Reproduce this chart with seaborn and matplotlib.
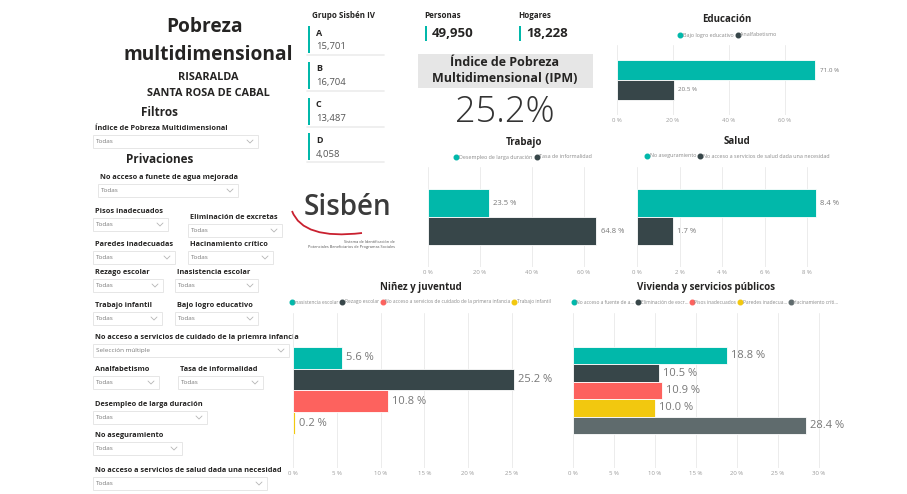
import seaborn as sns
import matplotlib.pyplot as plt
import pandas as pd
from matplotlib.patches import Rectangle, PathPatch
from matplotlib.path import Path
from matplotlib.lines import Line2D

# ----------------------- Datos -----------------------
grupos = ['A', 'B', 'C', 'D']
grupo_personas = [15701, 16704, 13487, 4058]
personas = 49950
hogares = 18228
ipm = 25.2

edu_series = ['Bajo logro educativo', 'Analfabetismo']
edu_values = [71.0, 20.5]

trabajo_series = ['Desempleo de larga duración', 'Tasa de informalidad']
trabajo_values = [23.5, 64.8]

salud_series = ['No aseguramiento', 'No acceso a servicios de salud dada una necesidad']
salud_values = [8.4, 1.7]

ninez_series = ['Inasistencia escolar', 'Rezago escolar',
                'No acceso a servicios de cuidado de la primera infancia', 'Trabajo infantil']
ninez_values = [5.6, 25.2, 10.8, 0.2]

vivienda_series = ['No acceso a fuente de a...', 'Eliminación de excr...', 'Pisos inadecuados',
                   'Paredes inadecua...', 'Hacinamiento críti...']
vivienda_values = [18.8, 10.5, 10.9, 10.0, 28.4]

PBI = ['#01B8AA', '#374649', '#FD625E', '#F2C80F', '#5F6B6D']
DARK = '#252423'
W, H = 907, 494

sns.set_theme(style='white')
plt.rcParams['font.family'] = ['Open Sans', 'DejaVu Sans']

fig = plt.figure(figsize=(W / 100, H / 100), dpi=100)
fig.patch.set_facecolor('white')

# overlay in pixel coords for the text / slicers
ov = fig.add_axes([0, 0, 1, 1])
ov.set_xlim(0, W)
ov.set_ylim(H, 0)
ov.axis('off')


def txt(x, y, s, size=5.3, weight='bold', color=DARK, ha='left', **kw):
    ov.text(x, y, s, fontsize=size, fontweight=weight, color=color, ha=ha, va='center', **kw)


def filtro(label, x, y, w, valor='Todas'):
    txt(x + 2, y, label)
    top = y + 7
    ov.add_patch(Rectangle((x, top), w, 13, facecolor='white', edgecolor='#e2e2e2', lw=0.6))
    txt(x + 3, top + 6.5, valor, size=4.6, weight='normal', color='#7a7a7a')
    cx = x + w - 8
    ov.plot([cx - 3, cx, cx + 3], [top + 5, top + 8, top + 5], color='#b5b5b5', lw=0.6)


# ----------------------- Panel izquierdo -----------------------
txt(205, 27, 'Pobreza', size=13.8, ha='center')
txt(208, 55, 'multidimensional', size=13.8, ha='center')
txt(208, 78, 'RISARALDA', size=7.8, ha='center')
txt(208, 94, 'SANTA ROSA DE CABAL', size=7.8, ha='center')
txt(160, 112, 'Filtros', size=8.5, ha='center')
filtro('Índice de Pobreza Multidimensional', 93, 128, 165)
txt(160, 159, 'Privaciones', size=8.5, ha='center')
filtro('No acceso a funete de agua mejorada', 98, 177, 140)
filtro('Pisos inadecuados', 93, 211, 75)
filtro('Eliminación de excretas', 188, 217, 94)
filtro('Paredes inadecuadas', 93, 244, 82)
filtro('Hacinamiento crítico', 188, 244, 85)
filtro('Rezago escolar', 93, 272, 70)
filtro('Inasistencia escolar', 175, 272, 83)
filtro('Trabajo infantil', 93, 305, 69)
filtro('Bajo logro educativo', 175, 305, 83)
filtro('No acceso a servicios de cuidado de la priemra infancia', 93, 337, 196,
       valor='Selección múltiple')
filtro('Analfabetismo', 93, 369, 66)
filtro('Tasa de informalidad', 178, 369, 85)
filtro('Desempleo de larga duración', 93, 404, 114)
filtro('No aseguramiento', 93, 435, 89)
filtro('No acceso a servicios de salud dada una necesidad', 93, 470, 174)

# ----------------------- Tarjetas -----------------------
txt(312, 16, 'Grupo Sisbén IV', size=5.8)
for i, (g, n) in enumerate(zip(grupos, grupo_personas)):
    y0 = 26 + i * 35.8
    ov.add_patch(Rectangle((307.5, y0), 2.2, 27, facecolor=PBI[0], edgecolor='none'))
    ov.plot([307, 384], [y0 + 29, y0 + 29], color='#ececec', lw=1.2)
    txt(316, y0 + 7, g, size=6.5)
    txt(316, y0 + 21, f'{n:,}', size=6.8, weight='normal', color='#555555')

for x, lab, val in [(424, 'Personas', personas), (518, 'Hogares', hogares)]:
    txt(x, 16, lab, size=5.8)
    ov.add_patch(Rectangle((x + 1, 26), 2.2, 15, facecolor=PBI[0], edgecolor='none'))
    txt(x + 8, 33.5, f'{val:,}', size=9.5)

ov.add_patch(Rectangle((418, 54), 175, 34, facecolor='#e6e6e6', edgecolor='none'))
txt(505, 63, 'Índice de Pobreza', size=9, ha='center')
txt(505, 79, 'Multidimensional (IPM)', size=9, ha='center')
txt(505, 112, f'{ipm:.1f}%', size=26, weight='light', color='#333333', ha='center')

# logo Sisbén
txt(347, 207, 'Sisbén', size=20, weight='semibold', color='#3b3b3b', ha='center')
swoosh = Path([(292, 211), (303, 240), (362, 233)], [Path.MOVETO, Path.CURVE3, Path.CURVE3])
ov.add_patch(PathPatch(swoosh, facecolor='none', edgecolor='#c9202f', lw=1.3))
txt(395, 241.5, 'Sistema de Identificación de', size=2.8, weight='normal', color='#555555', ha='right')
txt(395, 246.5, 'Potenciales Beneficiarios de Programas Sociales', size=2.8, weight='normal',
    color='#555555', ha='right')


# ----------------------- Gráficos de barras -----------------------
def barras(rect, titulo, title_y, series, valores, xmax, paso, label_size, labels=None,
           leg_size=3.9):
    x0, y0, x1, y1 = rect
    ax = fig.add_axes([x0 / W, 1 - y1 / H, (x1 - x0) / W, (y1 - y0) / H])
    colores = PBI[:len(series)]
    df = pd.DataFrame({'cat': ['total'] * len(series), 'serie': series, 'valor': valores})
    sns.barplot(data=df, x='valor', y='cat', hue='serie', palette=colores, orient='h',
                width=0.56, saturation=1, edgecolor='white', linewidth=0.6, legend=False, ax=ax)
    for c in ax.containers:
        ax.bar_label(c, fmt=lambda v: f'{v:.1f} %', padding=3, fontsize=label_size, color='#777777')
    ax.set_xlim(0, xmax)
    ax.set_ylim(0.5, -0.5)
    ticks = list(range(0, int(xmax) + 1, paso))
    ax.set_xticks(ticks)
    ax.set_xticklabels([f'{t} %' for t in ticks])
    ax.set_yticks([])
    ax.set_xlabel('')
    ax.set_ylabel('')
    ax.grid(axis='x', color='#ececec', lw=0.7)
    ax.set_axisbelow(True)
    sns.despine(ax=ax, left=True, bottom=True)
    ax.tick_params(axis='x', length=0, labelsize=4.3, colors='#9a9a9a', pad=2)
    ax.patch.set_alpha(0)

    cx = (x0 + x1) / 2 if labels is None else labels[0]
    txt(cx, title_y, titulo, size=7, ha='center')
    handles = [Line2D([], [], marker='o', ls='', color=c, markersize=3.3) for c in colores]
    lx = cx if labels is None else labels[1]
    ax.legend(handles, series, loc='center', bbox_to_anchor=(lx / W, 1 - (title_y + 15) / H),
              bbox_transform=fig.transFigure, ncol=len(series), frameon=False, fontsize=leg_size,
              handletextpad=0.05, columnspacing=0.35, handlelength=0.9, labelcolor='#8a8a8a',
              borderpad=0)
    return ax


barras((617, 45, 835, 115), 'Educación', 20, edu_series, edu_values, 78, 20, 4.5,
       labels=(727, 727))
barras((428, 167, 610, 267), 'Trabajo', 142, trabajo_series, trabajo_values, 70, 20, 5.5,
       labels=(524, 523))
barras((637, 167, 839, 267), 'Salud', 141, salud_series, salud_values, 9.5, 2, 5.5,
       labels=(737, 737))
barras((293, 313, 538, 468), 'Niñez y juventud', 287, ninez_series, ninez_values, 28, 5, 8,
       labels=(421, 420), leg_size=3.5)
barras((573, 313, 835, 468), 'Vivienda y servicios públicos', 287, vivienda_series,
       vivienda_values, 32, 5, 8, labels=(706, 705), leg_size=3.5)

fig.savefig('out.png', dpi=100)
